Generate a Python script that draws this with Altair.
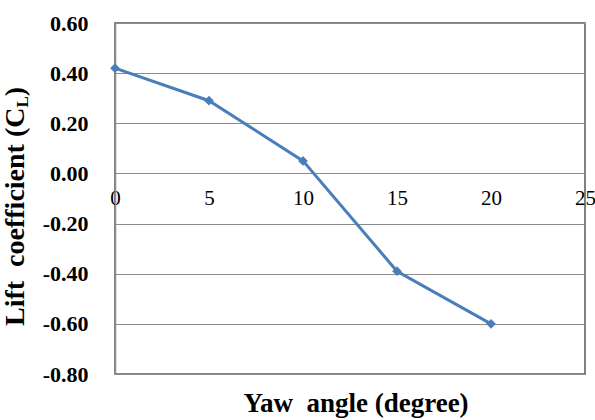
import altair as alt
import pandas as pd

yaw = [0, 5, 10, 15, 20]
cl = [0.42, 0.29, 0.05, -0.39, -0.60]
x_ticks = [0, 5, 10, 15, 20, 25]
y_ticks = [-0.8, -0.6, -0.4, -0.2, 0.0, 0.2, 0.4, 0.6]
x_title = "Yaw\u00a0\u00a0angle (degree)"
y_title_main = "Lift\u00a0\u00a0coefficient (C"
y_title_sub = "L"
y_title_end = ")"

df = pd.DataFrame({"yaw": yaw, "cl": cl})
W, H = 470, 351
FONT = "Liberation Serif"
BLUE = "#4a7ebb"

x_scale = alt.Scale(domain=[0, 25], nice=False, zero=False)
y_scale = alt.Scale(domain=[-0.8, 0.6], nice=False)
zero_offset = -(H * 0.8 / 1.4)

y_label_expr = "datum.value < 0 ? '-' + format(-datum.value, '.2f') : format(datum.value, '.2f')"

x_enc = alt.X(
    "yaw:Q", scale=x_scale,
    axis=alt.Axis(values=x_ticks, offset=zero_offset, domain=False, ticks=False, tickSize=0,
                  grid=False, labelFont=FONT, labelFontSize=21, labelColor="#000",
                  labelPadding=14, labelFlush=False, title=None, labelBaseline="top"),
)
y_enc = alt.Y(
    "cl:Q", scale=y_scale,
    axis=alt.Axis(values=y_ticks, labelExpr=y_label_expr, grid=True, gridColor="#8c8c8c",
                  gridWidth=1.2, domainColor="#8c8c8c", domainWidth=1.5, ticks=False, tickSize=0,
                  labelFont=FONT, labelFontWeight="bold", labelFontSize=22, labelColor="#000",
                  labelPadding=27, title=None),
)

base = alt.Chart(df)
line = base.mark_line(color=BLUE, strokeWidth=3).encode(x=x_enc, y=y_enc)
pts = base.mark_point(shape="diamond", filled=True, size=95, color=BLUE, opacity=1).encode(
    x=alt.X("yaw:Q", scale=x_scale), y=alt.Y("cl:Q", scale=y_scale))

xt = alt.Chart(pd.DataFrame({"t": [x_title]})).mark_text(
    font=FONT, fontWeight="bold", fontSize=27, color="#000", align="center", baseline="middle"
).encode(text="t:N", x=alt.value(241), y=alt.value(381))

yt_main = alt.Chart(pd.DataFrame({"t": [y_title_main]})).mark_text(
    font=FONT, fontWeight="bold", fontSize=28, color="#000", align="left", baseline="alphabetic", angle=270
).encode(text="t:N", x=alt.value(-91.5), y=alt.value(303))
yt_sub = alt.Chart(pd.DataFrame({"t": [y_title_sub]})).mark_text(
    font=FONT, fontWeight="bold", fontSize=17, color="#000", align="left", baseline="alphabetic", angle=270
).encode(text="t:N", x=alt.value(-87.5), y=alt.value(84.6))
yt_end = alt.Chart(pd.DataFrame({"t": [y_title_end]})).mark_text(
    font=FONT, fontWeight="bold", fontSize=28, color="#000", align="left", baseline="alphabetic", angle=270
).encode(text="t:N", x=alt.value(-91.5), y=alt.value(73.3))

chart = alt.layer(line, pts, xt, yt_main, yt_sub, yt_end).properties(
    width=W, height=H,
    autosize=alt.AutoSizeParams(type="none"),
    padding={"left": 115, "top": 23, "right": 10, "bottom": 46},
    background="white",
).configure_view(stroke="#595959", strokeWidth=1.5)

chart.save("out.html", embed_options={"renderer": "svg", "actions": False})
